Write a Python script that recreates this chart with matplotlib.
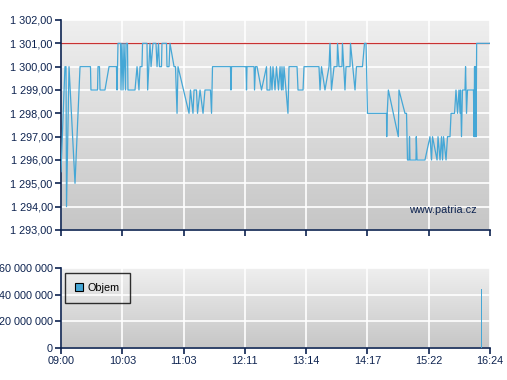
import numpy as np
import matplotlib
matplotlib.use("Agg")
import matplotlib.pyplot as plt
from matplotlib.ticker import FuncFormatter

plt.rcParams['font.family'] = ['Liberation Sans', 'DejaVu Sans']

# cas v minutach od 09:00 a cena obchodu
cas = [0, 4.1, 5.2, 5.7, 8.3, 14.5, 19.7, 30.5, 31.0, 37.8, 38.3, 39.8, 40.4, 45.5,
       49.7, 57.4, 58.0, 59.0, 61.6, 62.1, 63.1, 64.2, 65.2, 66.8, 67.3, 68.8, 69.3,
       76.6, 78.7, 80.7, 81.8, 83.8, 84.4, 89.0, 89.7, 92.1, 93.2, 95.2, 98.3, 99.4,
       100.9, 101.9, 104.0, 104.5, 109.2, 109.7, 111.8, 112.8, 117.0, 118.5, 120.1,
       121.1, 132.5, 134.0, 136.6, 137.7, 140.2, 141.3, 143.9, 147.0, 149.0, 154.7,
       155.8, 156.8, 175.4, 175.9, 176.5, 191.5, 192.0, 192.5, 199.8, 200.3, 201.3,
       202.9, 207.5, 212.7, 213.2, 216.3, 216.8, 218.4, 219.4, 221.5, 223.0, 225.1,
       226.7, 228.2, 228.7, 229.8, 230.8, 232.9, 234.9, 236.0, 244.3, 245.3, 250.5,
       251.5, 259.8, 267.0, 268.1, 269.6, 273.2, 277.4, 278.4, 279.9, 282.6, 285.7,
       286.2, 287.7, 290.8, 291.3, 293.9, 295.0, 299.1, 299.6, 304.3, 305.8, 312.0,
       314.1, 315.7, 316.7, 317.2, 336.9, 337.1, 337.6, 338.8, 349.1, 349.8, 356.0,
       357.6, 358.1, 358.6, 360.2, 360.7, 361.2, 367.4, 367.7, 368.5, 376.7, 381.9,
       383.5, 384.5, 389.2, 390.2, 392.3, 393.8, 394.9, 395.9, 398.5, 400.0, 402.6,
       403.7, 407.3, 408.8, 410.4, 411.9, 413.0, 413.5, 414.5, 415.5, 418.1, 418.7,
       419.7, 420.7, 426.9, 427.5, 428.0, 428.5, 429.0, 429.6, 430.2, 444]
cena = [1295.5, 1300, 1300, 1294, 1300, 1295, 1300, 1300, 1299, 1299, 1300, 1300, 1299, 1299,
        1300, 1300, 1299, 1301, 1301, 1299, 1301, 1299, 1301, 1299, 1301, 1301, 1299,
        1299, 1300, 1299, 1300, 1300, 1301, 1301, 1299, 1301, 1300, 1301, 1301, 1300,
        1301, 1300, 1300, 1301, 1301, 1300, 1300, 1301, 1300, 1300, 1298,
        1300, 1298, 1299, 1298, 1299, 1299, 1298, 1299, 1298, 1299, 1299,
        1298, 1300, 1300, 1299, 1300, 1300, 1299, 1300, 1300, 1299, 1300,
        1300, 1299, 1300, 1299, 1299, 1300, 1299, 1300, 1299, 1300, 1299,
        1300, 1299, 1300, 1299, 1300, 1299, 1298, 1300, 1300, 1299, 1299,
        1300, 1300, 1300, 1299, 1300, 1299, 1300, 1301, 1299, 1300, 1300,
        1301, 1300, 1300, 1301, 1299, 1300, 1300, 1301, 1299, 1300, 1300,
        1301, 1301, 1299, 1298, 1298, 1297, 1298, 1299, 1297, 1299, 1298,
        1298, 1297, 1296, 1296, 1297, 1296, 1296, 1297, 1296, 1296, 1297,
        1296, 1297, 1296, 1297, 1296, 1297, 1296, 1297, 1296, 1297, 1297,
        1298, 1298, 1299, 1298, 1299, 1298, 1299, 1297, 1299, 1299, 1300,
        1298, 1299, 1299, 1297, 1300, 1297, 1300, 1297, 1301, 1301]
predchozi = 1301

# objem obchodu
cas_obj = [49.7, 53.8, 75.6, 76.6, 103.5, 116.9, 291.8, 316.7, 357.1, 361.2, 372.6, 398.5, 402.6, 435.4]
objem = [0.5e6, 0.5e6, 0.4e6, 0.4e6, 0.4e6, 0.5e6, 0.6e6, 0.8e6, 0.6e6, 0.6e6, 0.5e6, 0.5e6, 0.5e6, 44e6]

x_popisky = ['09:00', '10:03', '11:03', '12:11', '13:14', '14:17', '15:22', '16:24']
konec = 444

modra = '#45a7d6'
navy = '#0d2350'

fig = plt.figure(figsize=(5.07, 3.8), dpi=100)
ax1 = fig.add_axes([61/507, 1-230/380, 429/507, 210/380])
ax2 = fig.add_axes([61/507, 1-348/380, 429/507, 80/380])

grad = np.linspace(0, 1, 256).reshape(-1, 1)
for ax in (ax1, ax2):
    ax.imshow(grad, extent=[0, 1, 0, 1], transform=ax.transAxes, aspect='auto',
              cmap=matplotlib.colors.LinearSegmentedColormap.from_list('g', ['#c6c6c6', '#efefef']),
              origin='lower', zorder=0)
    ax.set_axisbelow(True)
    ax.grid(True, color='white', linewidth=1.2)
    for s in ('top', 'right'):
        ax.spines[s].set_visible(False)
    for s in ('left', 'bottom'):
        ax.spines[s].set_color(navy)
        ax.spines[s].set_linewidth(1.2)
    ax.tick_params(colors=navy, labelcolor=navy, length=4, width=1.2, labelsize=7.8, pad=2)
    ax.set_xlim(0, konec)
    ax.set_xticks(np.linspace(0, konec, len(x_popisky)))

ax1.plot(cas, cena, color=modra, linewidth=0.9, zorder=3)
ax1.axhline(predchozi, color='#c83232', linewidth=0.9, zorder=2)
ax1.set_ylim(1293, 1302)
ax1.set_yticks(np.arange(1293, 1303, 1))
ax1.yaxis.set_major_formatter(FuncFormatter(lambda v, p: f"{v:,.2f}".replace(",", " ").replace(".", ",")))
ax1.set_xticklabels([])
ax1.text(0.97, 0.07, 'www.patria.cz', transform=ax1.transAxes, ha='right', va='bottom',
         color=navy, fontsize=7.8)

ax2.bar(cas_obj, objem, width=0.6, color=modra, zorder=3, label='Objem')
ax2.set_ylim(0, 60e6)
ax2.set_yticks([0, 20e6, 40e6, 60e6])
ax2.yaxis.set_major_formatter(FuncFormatter(lambda v, p: f"{v:,.0f}".replace(",", " ")))
ax2.set_xticklabels(x_popisky)
leg = ax2.legend(loc='upper left', fancybox=False, edgecolor='black',
                 handlelength=0.8, handleheight=0.8, handletextpad=0.4, fontsize=7.8,
                 borderpad=0.9, borderaxespad=0, bbox_to_anchor=(4/429, 1 - 5/80))
leg.get_frame().set_facecolor('none')
leg.get_frame().set_linewidth(1.0)
leg.legend_handles[0].set_edgecolor('black')
leg.legend_handles[0].set_linewidth(0.8)

fig.savefig('out.png', dpi=100)
